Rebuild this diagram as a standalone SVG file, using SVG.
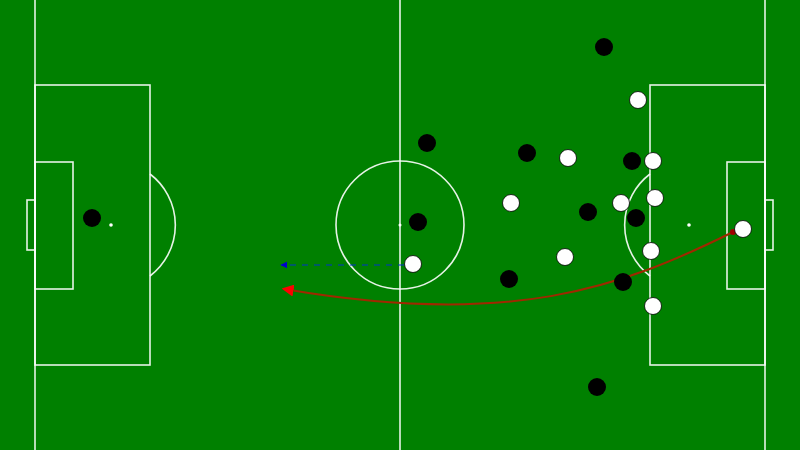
<svg xmlns="http://www.w3.org/2000/svg" width="800" height="450" viewBox="0 0 800 450">
<defs>
<style>
.line{fill:none;stroke:#fff;stroke-width:1.6;stroke-opacity:0.9}
.b{fill:#000}
.w{fill:#fff;stroke:#000;stroke-width:0.8}
</style>
<marker id="ab" viewBox="0 0 10 10" refX="9" refY="5" markerWidth="7" markerHeight="7" orient="auto" markerUnits="userSpaceOnUse"><path d="M0,0L10,5L0,10z" fill="#0000cc"/></marker>
<marker id="ar" viewBox="0 0 10 10" refX="8" refY="5" markerWidth="12" markerHeight="12" orient="auto" markerUnits="userSpaceOnUse"><path d="M0,0L10,5L0,10z" fill="#ff0000"/></marker>
</defs>
<rect width="800" height="450" fill="#008000"/>
<g id="pitch">
<line class="line" x1="35" y1="0" x2="35" y2="450"/>
<line class="line" x1="765" y1="0" x2="765" y2="450"/>
<line class="line" x1="400" y1="0" x2="400" y2="450"/>
<circle class="line" cx="400" cy="225" r="64"/>
<circle cx="400" cy="225" r="1.5" fill="#fff"/>
<rect class="line" x="35" y="85" width="115" height="280"/>
<rect class="line" x="35" y="162" width="38" height="127"/>
<rect class="line" x="27" y="200" width="8" height="50"/>
<circle cx="111" cy="225" r="1.8" fill="#fff"/>
<path class="line" d="M150,174 A64,64 0 0 1 150,276"/>
<rect class="line" x="650" y="85" width="115" height="280"/>
<rect class="line" x="727" y="162" width="38" height="127"/>
<rect class="line" x="765" y="200" width="8" height="50"/>
<circle cx="689" cy="225" r="1.8" fill="#fff"/>
<path class="line" d="M650,174 A64,64 0 0 0 650,276"/>
</g>
<g id="connectors">
<line x1="404" y1="265" x2="281" y2="265" stroke="#0033cc" stroke-width="1.2" stroke-dasharray="6,6" marker-end="url(#ab)"/>
<path d="M733,232 C620,288 510,328 284,289" fill="none" stroke="#a02800" stroke-width="2" marker-end="url(#ar)"/>
<circle cx="733" cy="232" r="3" fill="#a00000"/>
</g>
<g id="players-black">
<circle class="b" cx="604" cy="47" r="9"/>
<circle class="b" cx="427" cy="143" r="9"/>
<circle class="b" cx="527" cy="153" r="9"/>
<circle class="b" cx="632" cy="161" r="9"/>
<circle class="b" cx="418" cy="222" r="9"/>
<circle class="b" cx="588" cy="212" r="9"/>
<circle class="b" cx="636" cy="218" r="9"/>
<circle class="b" cx="509" cy="279" r="9"/>
<circle class="b" cx="623" cy="282" r="9"/>
<circle class="b" cx="597" cy="387" r="9"/>
<circle class="b" cx="92" cy="218" r="9"/>
</g>
<g id="players-white">
<circle class="w" cx="638" cy="100" r="8.5"/>
<circle class="w" cx="568" cy="158" r="8.5"/>
<circle class="w" cx="653" cy="161" r="8.5"/>
<circle class="w" cx="655" cy="198" r="8.5"/>
<circle class="w" cx="511" cy="203" r="8.5"/>
<circle class="w" cx="621" cy="203" r="8.5"/>
<circle class="w" cx="743" cy="229" r="8.5"/>
<circle class="w" cx="651" cy="251" r="8.5"/>
<circle class="w" cx="565" cy="257" r="8.5"/>
<circle class="w" cx="413" cy="264" r="8.5"/>
<circle class="w" cx="653" cy="306" r="8.5"/>
</g>
</svg>
